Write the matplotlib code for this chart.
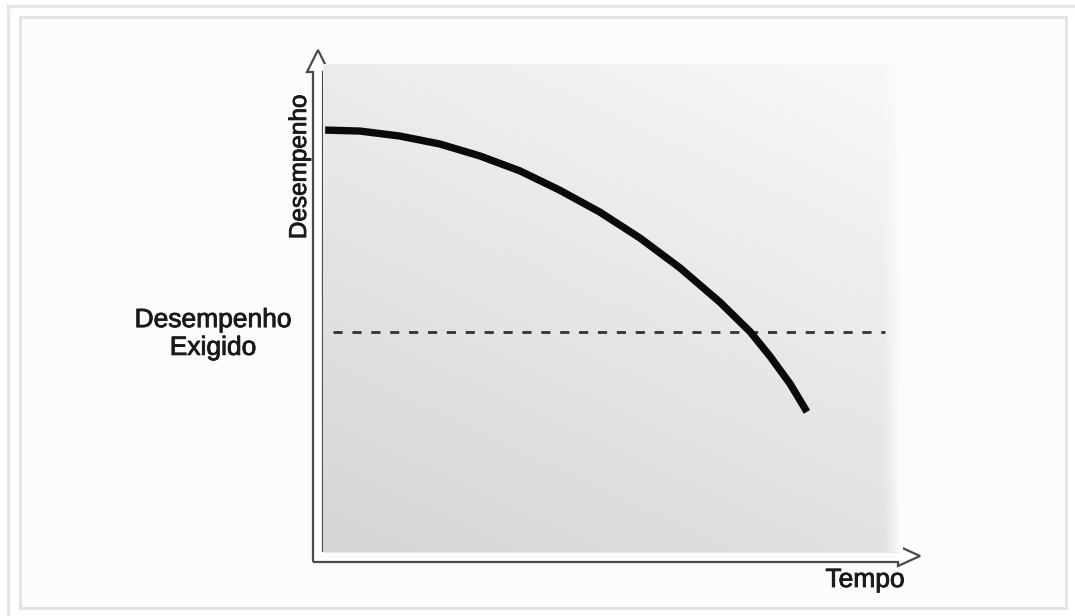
import numpy as np
import matplotlib
matplotlib.use("Agg")
import matplotlib.pyplot as plt
from matplotlib.patches import Polygon
import matplotlib.patheffects as pe

plt.rcParams['font.family'] = ['Liberation Sans', 'DejaVu Sans']

# performance curve (time 0-100, performance 0-100)
tempo = [1.2, 7.0, 13.7, 20.4, 27.1, 33.8, 40.5, 47.2, 53.9, 60.6, 67.3,
         72.4, 75.7, 79.1, 81.9]
desempenho = [85.5, 85.3, 84.3, 82.7, 80.3, 77.3, 73.4, 69.0, 63.8, 57.8,
              50.9, 44.9, 40.0, 34.4, 28.8]
exigido = 44.9
exigido_x = [2.5, 95.0]

W, H = 1075, 616
fig = plt.figure(figsize=(W / 100, H / 100), dpi=100)
fig.patch.set_facecolor('white')

# overlay in pixel coords for frame, axis arrows and labels
deco = fig.add_axes([0, 0, 1, 1])
deco.set_xlim(0, W)
deco.set_ylim(H, 0)
deco.axis('off')
deco.plot([8, W], [6, 6], color='#e6e6e6', lw=2.5)
deco.plot([8, 8], [6, H], color='#e6e6e6', lw=2.5)
deco.add_patch(plt.Rectangle((20, 17), 1046, 591, facecolor='#fcfcfc',
                             edgecolor='#e2e2e2', lw=2))

# chart axes: origin at pixel (318, 555), tips at x=915, y=58
x0, y0, x1, y1 = 318, 555, 915, 58
ax = fig.add_axes([x0 / W, (H - y0) / H, (x1 - x0) / W, (y0 - y1) / H])
ax.set_xlim(0, 100)
ax.set_ylim(0, 100)
ax.axis('off')

# background gradient
ny, nx = 60, 120
yy, xx = np.mgrid[0:1:ny * 1j, 0:1:nx * 1j]
g = 0.835 + 0.09 * yy + 0.05 * xx
fade = np.clip((xx - 0.97) / 0.03, 0, 1)
g = g * (1 - fade) + 0.985 * fade
ax.imshow(np.dstack([g, g, g]), extent=[0.8, 97.8, 0.6, 98.6], origin='lower',
          aspect='auto', interpolation='bilinear', zorder=0)

ax.plot(exigido_x, [exigido, exigido], color='#333333', lw=2,
        dashes=(3.3, 3.5), zorder=2)
ax.plot(tempo, desempenho, color='#0a0a0a', lw=5.3, solid_capstyle='butt',
        solid_joinstyle='round', zorder=3)

# hollow arrows
ec = '#4a4a4a'
yarrow = [(313, 562), (313, 72), (307, 72), (318, 50), (329, 72), (323, 72), (323, 552)]
xarrow = [(313, 562), (898, 562), (898, 566), (920, 556), (898, 546), (898, 551), (323, 551)]
deco.fill([313, 323, 323, 313], [562, 551, 72, 72], color='white', zorder=3.5)
deco.fill([307, 318, 329], [72, 50, 72], color='white', zorder=3.5)
deco.fill([898, 920, 898], [566, 556, 546], color='white', zorder=3.5)
deco.add_patch(Polygon(yarrow, closed=False, facecolor='none', edgecolor=ec, lw=1.6, zorder=4))
deco.add_patch(Polygon(xarrow, closed=False, facecolor='none', edgecolor=ec, lw=1.6, zorder=4))

tc = '#1a1a1a'
fx = [pe.withStroke(linewidth=0.6, foreground=tc)]
deco.text(300, 167, 'Desempenho', rotation=90, ha='center', va='center',
          fontsize=17.5, color=tc, path_effects=fx)
deco.text(213, 334, 'Desempenho\nExigido', ha='center', va='center',
          fontsize=19, color=tc, linespacing=1.2, path_effects=fx)
deco.text(865, 580, 'Tempo', ha='center', va='center', fontsize=19, color=tc,
          path_effects=fx)

fig.savefig('out.png', dpi=100)
